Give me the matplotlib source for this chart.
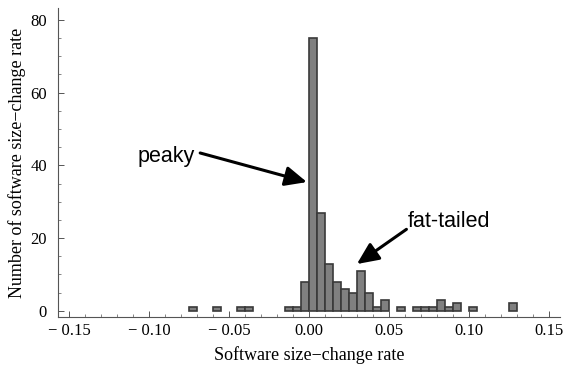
import numpy as np
import matplotlib.pyplot as plt
from matplotlib.ticker import MultipleLocator

# histogram of size-change rates, bin width 0.005 (left edges and counts)
bin_left = [-0.075, -0.060, -0.045, -0.040, -0.015, -0.010, -0.005, 0.000,
            0.005, 0.010, 0.015, 0.020, 0.025, 0.030, 0.035, 0.040, 0.045,
            0.055, 0.065, 0.070, 0.075, 0.080, 0.085, 0.090, 0.100, 0.125]
counts = [1, 1, 1, 1, 1, 1, 8, 75,
          27, 13, 8, 6, 5, 11, 5, 1, 3,
          1, 1, 1, 1, 3, 1, 2, 1, 2]
bin_width = 0.005

xticks = [-0.15, -0.10, -0.05, 0.00, 0.05, 0.10, 0.15]
xticklabels = ["\u2212 0.15", "\u2212 0.10", "\u2212 0.05", "0.00", "0.05", "0.10", "0.15"]
yticks = [0, 20, 40, 60, 80]

SERIF = "Liberation Serif"
SANS = "Liberation Sans"

fig = plt.figure(figsize=(5.66, 3.70), dpi=100)
ax = fig.add_axes([0.1025, 0.1424, 0.8865, 0.8352])

ax.bar(bin_left, counts, width=bin_width, align="edge",
       color="#808080", edgecolor="#3a3a3a", linewidth=1.2)

ax.set_xlim(-0.1569, 0.1569)
ax.set_ylim(-1.8, 83.2)

ax.spines["top"].set_visible(False)
ax.spines["right"].set_visible(False)
ax.spines["left"].set_color("#555555")
ax.spines["bottom"].set_color("#555555")
ax.spines["left"].set_linewidth(0.8)
ax.spines["bottom"].set_linewidth(0.8)

ax.set_xticks(xticks)
ax.set_xticklabels(xticklabels, fontfamily=SERIF, fontsize=12)
ax.set_yticks(yticks)
ax.set_yticklabels([str(t) for t in yticks], fontfamily=SERIF, fontsize=12)
ax.xaxis.set_minor_locator(MultipleLocator(0.01))
ax.yaxis.set_minor_locator(MultipleLocator(5))
ax.tick_params(which="major", direction="in", length=4, width=0.7, color="#555555")
ax.tick_params(which="minor", direction="in", length=2, width=0.5, color="#555555")
ax.tick_params(axis="x", which="major", pad=4)
ax.tick_params(axis="y", which="major", pad=8)

ax.set_xlabel("Software size\u2212change rate", fontfamily=SERIF, fontsize=13, labelpad=5)
ax.set_ylabel("Number of software size\u2212change rate", fontfamily=SERIF, fontsize=13, labelpad=3)

arrow = dict(arrowstyle="-|>,head_length=1.1,head_width=0.5", lw=2.2, color="black",
             mutation_scale=12, shrinkA=0, shrinkB=0)
ax.annotate("", xy=(-0.00125, 35.4), xytext=(-0.068, 43.4), arrowprops=arrow)
ax.text(-0.1069, 42.3, "peaky", fontfamily=SANS, fontsize=15.5, va="center", ha="left")
ax.annotate("", xy=(0.030, 12.85), xytext=(0.061, 22.4), arrowprops=arrow)
ax.text(0.0619, 24.5, "fat-tailed", fontfamily=SANS, fontsize=15.5, va="center", ha="left")

fig.savefig("out.png", dpi=100)
